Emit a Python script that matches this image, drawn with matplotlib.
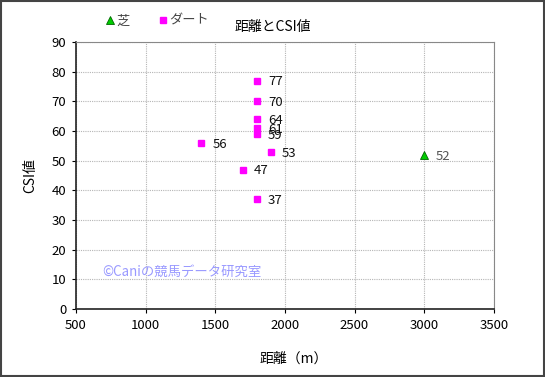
import matplotlib.pyplot as plt
from matplotlib.lines import Line2D
from matplotlib.patches import Rectangle

plt.rcParams['font.family'] = ['Noto Sans CJK JP', 'DejaVu Sans']

# turf (芝)
turf_dist = [3000]
turf_csi = [52]
# dirt (ダート)
dirt_dist = [1800, 1800, 1800, 1800, 1800, 1400, 1900, 1700, 1800]
dirt_csi = [77, 70, 64, 61, 59, 56, 53, 47, 37]

xticks = [500, 1000, 1500, 2000, 2500, 3000, 3500]
yticks = [0, 10, 20, 30, 40, 50, 60, 70, 80, 90]

fig = plt.figure(figsize=(5.45, 3.77), dpi=100)
ax = fig.add_axes([0.1394, 0.1804, 0.7666, 0.7082])

ax.plot(dirt_dist, dirt_csi, linestyle='none', marker='s', markersize=5,
        color='#ff00ff', markeredgecolor='#ff00ff')
ax.plot(turf_dist, turf_csi, linestyle='none', marker='^', markersize=6,
        color='#00cc00', markeredgecolor='#006600', markeredgewidth=0.6)

for x, y in zip(dirt_dist, dirt_csi):
    ax.annotate(str(y), (x, y), xytext=(8, -1), textcoords='offset points',
                va='center', ha='left', fontsize=9.5, color='#111111')
for x, y in zip(turf_dist, turf_csi):
    ax.annotate(str(y), (x, y), xytext=(8, -1), textcoords='offset points',
                va='center', ha='left', fontsize=9.5, color='#555555')

ax.set_xlim(500, 3500)
ax.set_ylim(0, 90)
ax.set_xticks(xticks)
ax.set_yticks(yticks)
ax.tick_params(labelsize=9.5, length=3, width=0.8, pad=4)
ax.grid(True, linestyle=(0, (1, 1)), color='#b5b5b5', linewidth=0.8)
ax.set_axisbelow(True)
for s in ['top', 'right']:
    ax.spines[s].set_color('#888888')
for s in ['left', 'bottom']:
    ax.spines[s].set_color('#222222')
    ax.spines[s].set_linewidth(1.2)

ax.set_xlabel('距離（m）', fontsize=10)
ax.set_ylabel('CSI値', fontsize=10, labelpad=10)
ax.xaxis.set_label_coords(0.52, -0.16)

ax.text(690, 12.5, '©Caniの競馬データ研究室', fontsize=9.6, color='#9999ff', va='center')

fig.text(0.5, 0.928, '距離とCSI値', fontsize=10, ha='center', va='center')

handles = [
    Line2D([], [], linestyle='none', marker='^', markersize=6, color='#00cc00',
           markeredgecolor='#006600', markeredgewidth=0.6, label='芝'),
    Line2D([], [], linestyle='none', marker='s', markersize=5, color='#ff00ff',
           label='ダート'),
]
leg = fig.legend(handles=handles, loc='center left', bbox_to_anchor=(0.168, 0.943),
                 ncol=2, frameon=False, fontsize=9.5, handletextpad=0.0,
                 columnspacing=2.0, handlelength=1.0)
for t in leg.get_texts():
    t.set_color('#444444')

fig.patches.append(Rectangle((0.002, 0.003), 0.996, 0.994, transform=fig.transFigure,
                             fill=False, edgecolor='#444444', linewidth=1.5))

fig.savefig('out.png', dpi=100)
